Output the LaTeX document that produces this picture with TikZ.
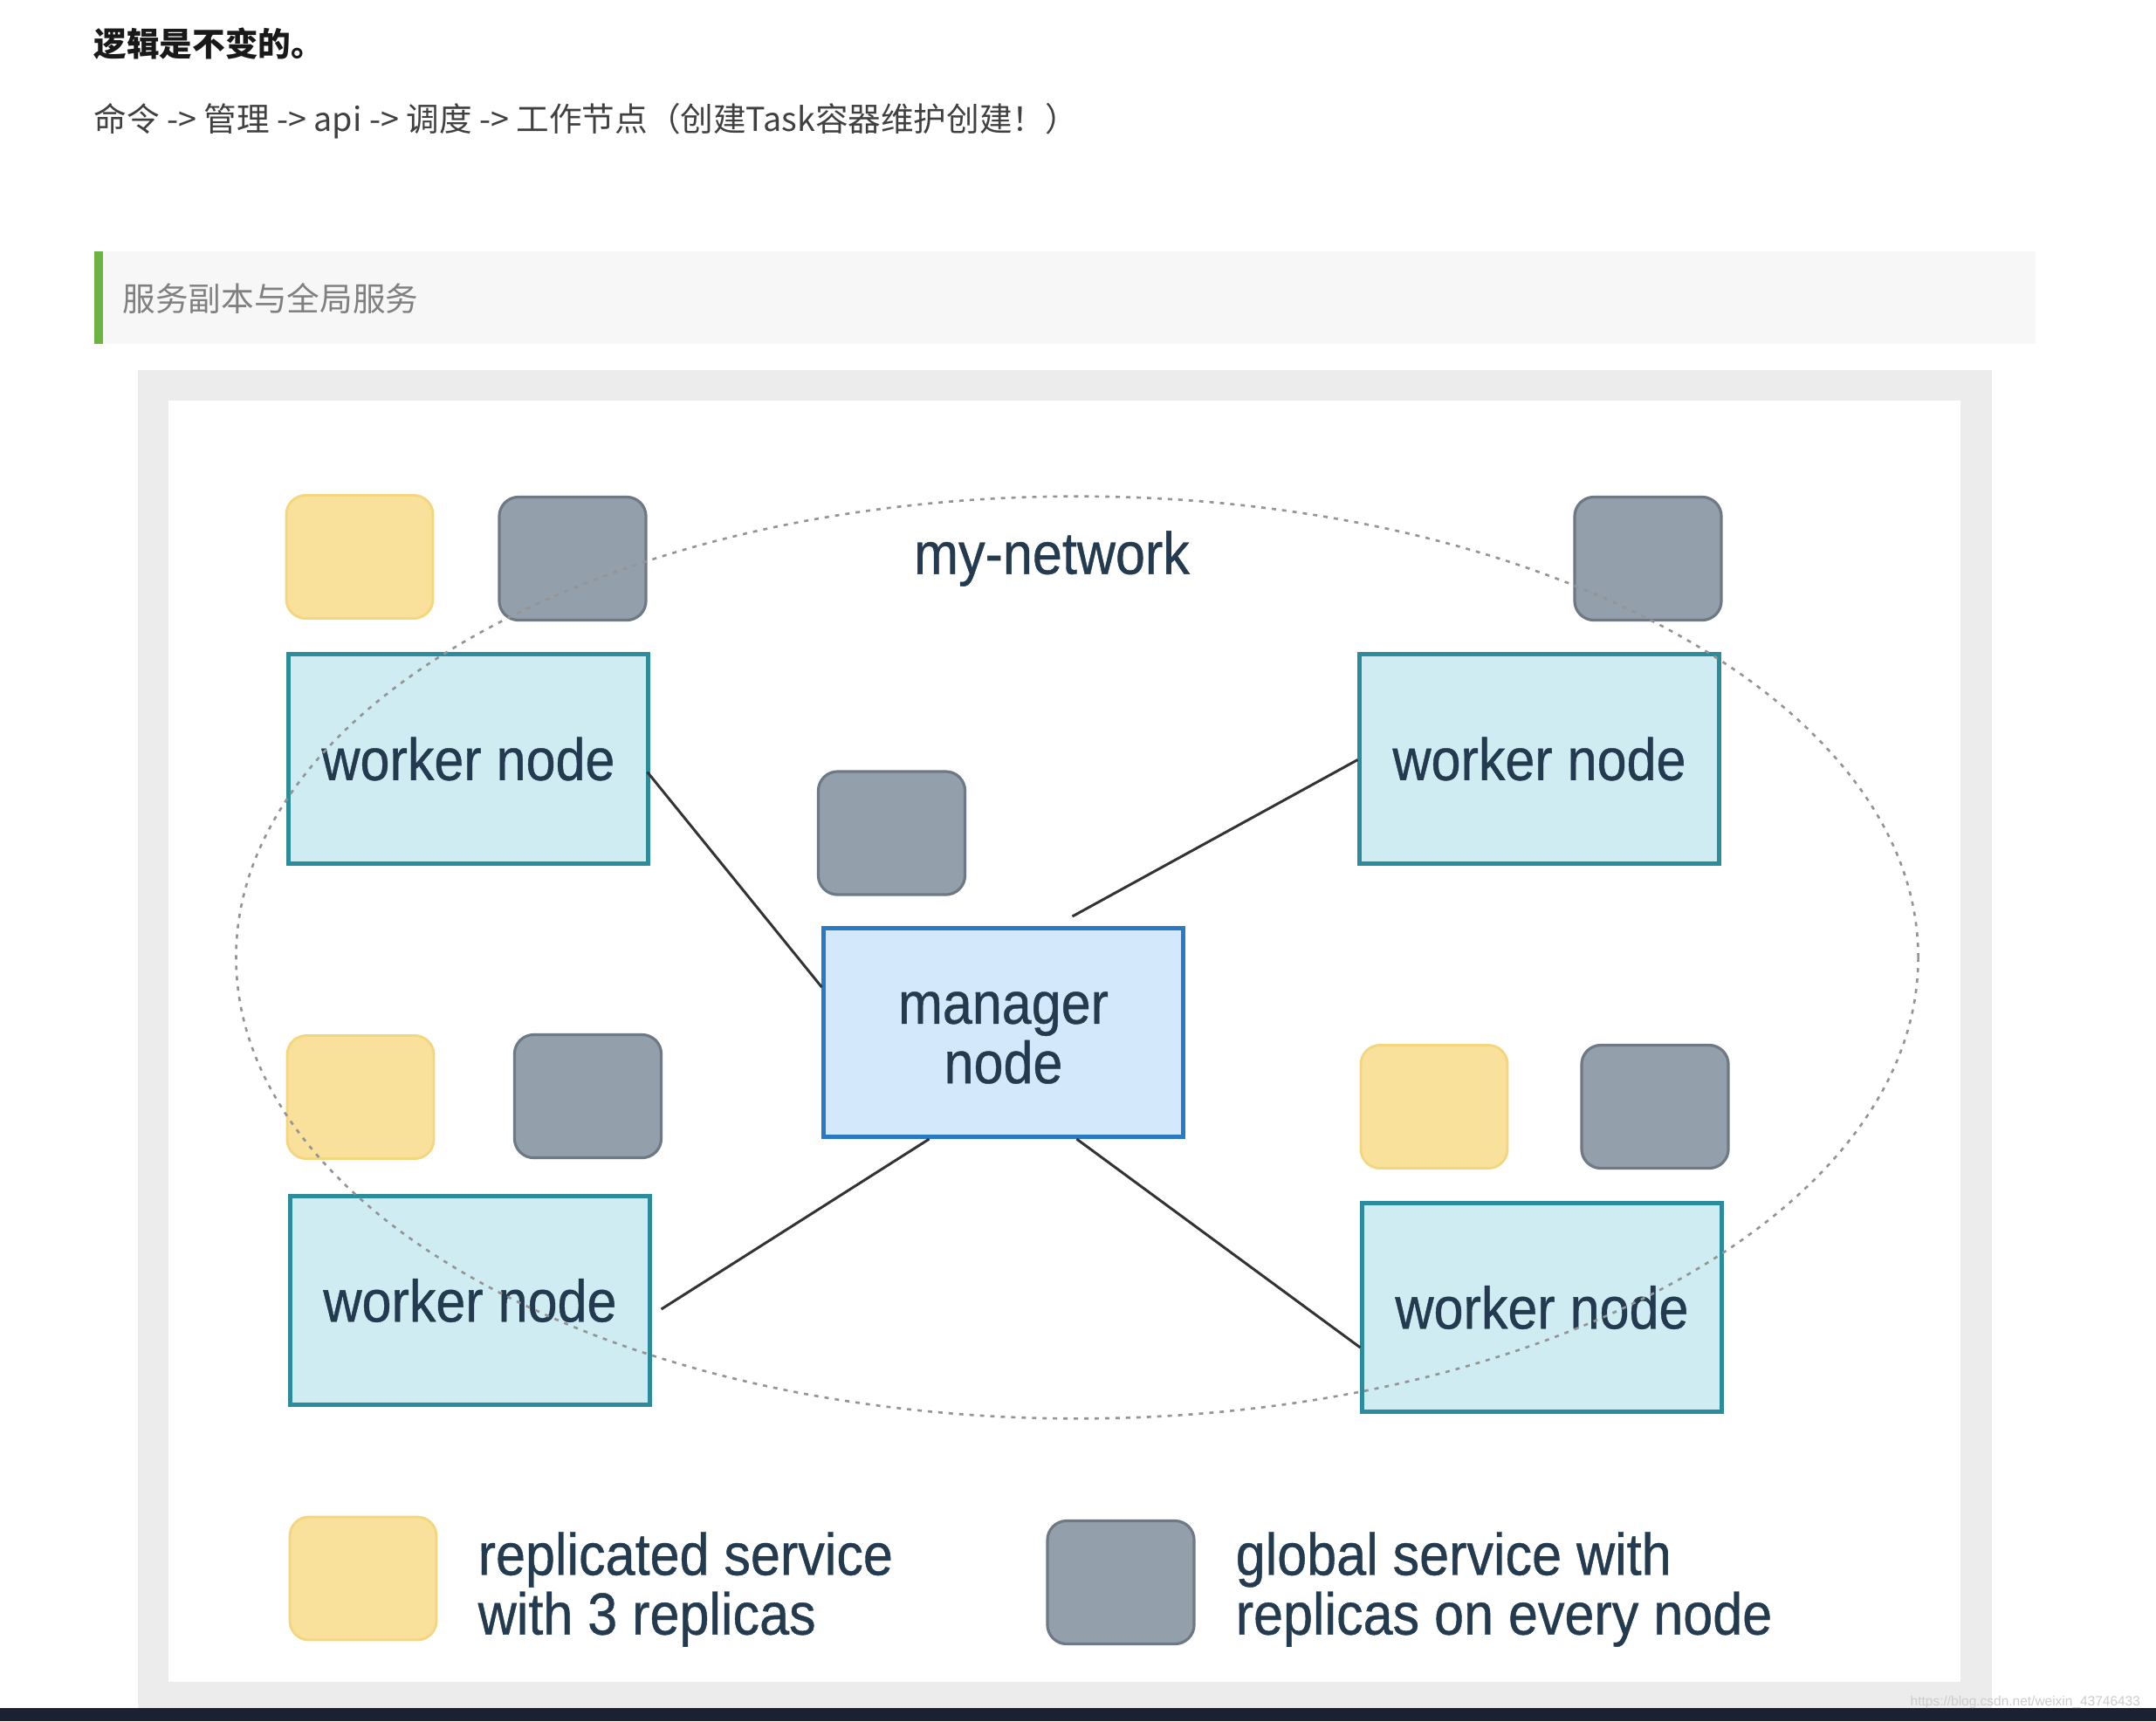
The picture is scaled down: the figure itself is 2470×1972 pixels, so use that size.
\documentclass[tikz,border=0pt]{standalone}
\usepackage{fontspec}
\setmainfont{Liberation Sans}
\newfontfamily\diagfont[FakeStretch=0.9, FakeBold=0.6]{Liberation Sans}
\newfontfamily\cjk{Noto Sans CJK SC}
\usetikzlibrary{calc}
\definecolor{yfill}{HTML}{F9E09B}
\definecolor{ydraw}{HTML}{F4D67E}
\definecolor{gfill}{HTML}{939FAB}
\definecolor{gdraw}{HTML}{6D7985}
\definecolor{wfill}{HTML}{CFECF2}
\definecolor{wdraw}{HTML}{2C8C9B}
\definecolor{mfill}{HTML}{D4E8FB}
\definecolor{mdraw}{HTML}{2A79C4}
\definecolor{txt}{HTML}{233A4F}
\definecolor{frame}{HTML}{ECECEC}
\definecolor{quotebg}{HTML}{F7F7F7}
\definecolor{quotebar}{HTML}{6DB33F}
\definecolor{taskbar}{HTML}{1B2130}
\tikzset{
  diag/.style={font=\diagfont\fontsize{19.3pt}{19.4pt}\selectfont, text=txt},
  worker/.style={diag, draw=wdraw, fill=wfill, line width=1.4pt, minimum width=4.11cm, minimum height=2.39cm, inner sep=0pt},
  manager/.style={diag, draw=mdraw, fill=mfill, line width=1.4pt, minimum width=4.11cm, minimum height=2.39cm, inner sep=0pt, align=center},
  ybox/.style={draw=ydraw, fill=yfill, line width=0.8pt, rounded corners=0.22cm, minimum width=1.68cm, minimum height=1.41cm, inner sep=0pt},
  gbox/.style={draw=gdraw, fill=gfill, line width=0.9pt, rounded corners=0.22cm, minimum width=1.68cm, minimum height=1.41cm, inner sep=0pt},
  link/.style={draw=black!80, line width=0.85pt},
  net/.style={draw=black!42, line width=0.75pt, dash pattern=on 1.4pt off 2pt},
  cjktext/.style={anchor=west, inner sep=0pt, font=\cjk\fontsize{10.7pt}{12pt}\selectfont}
}
\begin{document}
\begin{tikzpicture}[x=0.01cm,y=-0.01cm]
\useasboundingbox (0,0) rectangle (2470,1972);
\fill[white] (0,0) rectangle (2470,1972);
% page text
\node[cjktext, font=\cjk\bfseries\fontsize{10.7pt}{12pt}\selectfont, text=black!90] (title) at (107,50) {逻辑是不变的。};
\node[cjktext, text=black!75] (flow) at (107,139) {命令 -> 管理 -> api -> 调度 -> 工作节点（创建Task容器维护创建！）};
\fill[quotebg] (108,288) rectangle (2332,394);
\fill[quotebar] (108,288) rectangle (118,394);
\node[cjktext, text=black!50] (quote) at (140,342) {服务副本与全局服务};
% image frame
\fill[frame] (158,424) rectangle (2282,1957);
\fill[white] (193,459) rectangle (2246,1927);
% services
\node[ybox] (yTL) at (412,638) {};
\node[gbox] (gTL) at (656,640) {};
\node[gbox] (gTR) at (1888,640) {};
\node[gbox] (gC) at (1021.5,954.5) {};
\node[ybox] (yBL) at (413,1257) {};
\node[gbox] (gBL) at (673.5,1256) {};
\node[ybox] (yBR) at (1643,1268) {};
\node[gbox] (gBR) at (1896,1268) {};
% nodes
\node[worker] (wTL) at (536.5,869.5) {worker node};
\node[worker] (wTR) at (1763.5,869.5) {worker node};
\node[worker] (wBL) at (538.5,1490) {worker node};
\node[worker] (wBR) at (1766.5,1498) {worker node};
\node[manager] (mgr) at (1149.5,1183) {};
\node[diag, align=center, inner sep=0pt] (mgrtext) at ($(mgr.center)+(0,6)$) {manager\\node};
\node[diag] (netlabel) at (1205,640) {my-network};
% connectors
\draw[link] ($(wTL.east)+(-3,15)$) -- ($(mgr.west)+(0,-52)$);
\coordinate (mtop) at ($(mgr.north)+(79,-11)$);
\draw[link] ($(wTR.west)+(0,1)$) -- (mtop);
\coordinate (blstart) at ($(wBL.east)+(11,10)$);
\draw[link] (blstart) -- ($(mgr.south)+(-85,0)$);
\draw[link] ($(wBR.west)+(0,46)$) -- ($(mgr.south)+(84,0)$);
% network ellipse
\draw[net] (1234,1097) ellipse [x radius=9.63cm, y radius=5.28cm];
% legend
\node[ybox] (legY) at (416,1808.5) {};
\node[gbox] (legG) at (1284,1813) {};
\node[diag, anchor=west, align=left, inner sep=0pt] (legYt) at (547,1821) {replicated service\\with 3 replicas};
\node[diag, anchor=west, align=left, inner sep=0pt] (legGt) at (1415,1821) {global service with\\replicas on every node};
% taskbar and watermark
\fill[taskbar] (0,1957) rectangle (2470,1972);
\node[anchor=west, inner sep=0pt, text=black!20, font=\fontsize{4.4pt}{5pt}\selectfont] (wm) at (2188,1950) {https://blog.csdn.net/weixin\_43746433};
\end{tikzpicture}
\end{document}
